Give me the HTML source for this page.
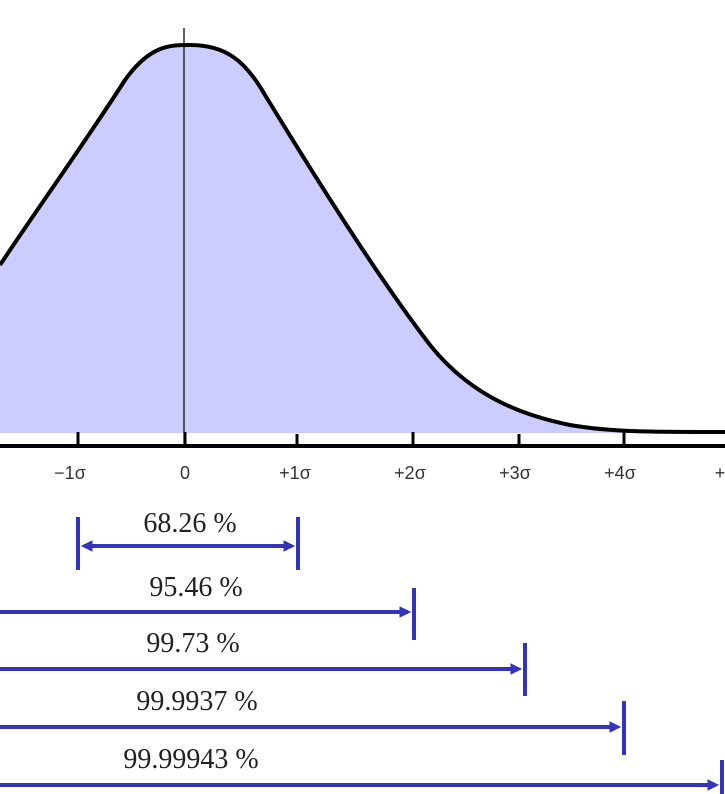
<!DOCTYPE html>
<html><head><style>
body{margin:0;background:#fff;}
svg{display:block;}
text{font-family:"Liberation Serif",serif;fill:#222;}
.t text{font-family:"Liberation Sans",sans-serif;fill:#333;}
</style></head><body>
<svg width="725" height="794" viewBox="0 0 725 794">
<path d="M0,265 C40,205 90,135 125,80 C150,45 170,45 190,45 C225,45 245,60 265,95 C320,185 380,280 430,345 C470,395 520,415 570,425 C610,432 650,432 725,432 L725,433 L0,433 Z" fill="#ccccff"/>
<path d="M0,265 C40,205 90,135 125,80 C150,45 170,45 190,45 C225,45 245,60 265,95 C320,185 380,280 430,345 C470,395 520,415 570,425 C610,432 650,432 725,432" fill="none" stroke="#000" stroke-width="4"/>
<line x1="184" y1="28" x2="184" y2="447" stroke="#000" stroke-width="1.2"/>
<line x1="0" y1="446" x2="725" y2="446" stroke="#000" stroke-width="4"/>
<g stroke="#000" stroke-width="3">
<line x1="78" y1="432" x2="78" y2="446"/><line x1="185" y1="432" x2="185" y2="446"/>
<line x1="297" y1="434" x2="297" y2="446"/><line x1="413" y1="432" x2="413" y2="446"/>
<line x1="519" y1="434" x2="519" y2="446"/><line x1="624" y1="432" x2="624" y2="446"/>
</g>
<g class="t" font-size="18" text-anchor="middle">
<text x="70" y="479">−1σ</text><text x="185" y="479">0</text><text x="295" y="479">+1σ</text>
<text x="410" y="479">+2σ</text><text x="515" y="479">+3σ</text><text x="620" y="479">+4σ</text><text x="725" y="479">+5</text>
</g>
<g font-size="28" text-anchor="middle">
<text x="190" y="532">68.26 %</text>
<text x="196" y="596">95.46 %</text>
<text x="193" y="652">99.73 %</text>
<text x="197" y="710">99.9937 %</text>
<text x="191" y="768">99.99943 %</text>
</g>
<g stroke="#3333bb" stroke-width="4" fill="#3333bb">
<line x1="78" y1="517" x2="78" y2="570"/><line x1="298" y1="517" x2="298" y2="570"/>
<line x1="84" y1="546" x2="292" y2="546"/>
<path d="M82,546 L92,541 L92,551Z" stroke-width="1"/><path d="M294,546 L284,541 L284,551Z" stroke-width="1"/>
<line x1="414" y1="588" x2="414" y2="640"/><line x1="0" y1="612" x2="408" y2="612"/>
<path d="M410,612 L400,607 L400,617Z" stroke-width="1"/>
<line x1="525" y1="643" x2="525" y2="696"/><line x1="0" y1="669" x2="518" y2="669"/>
<path d="M521,669 L511,664 L511,674Z" stroke-width="1"/>
<line x1="624" y1="701" x2="624" y2="755"/><line x1="0" y1="727" x2="617" y2="727"/>
<path d="M620,727 L610,722 L610,732Z" stroke-width="1"/>
<line x1="722" y1="760" x2="722" y2="794"/><line x1="0" y1="785" x2="715" y2="785"/>
<path d="M718,785 L708,780 L708,790Z" stroke-width="1"/>
</g>
</svg>
</body></html>
